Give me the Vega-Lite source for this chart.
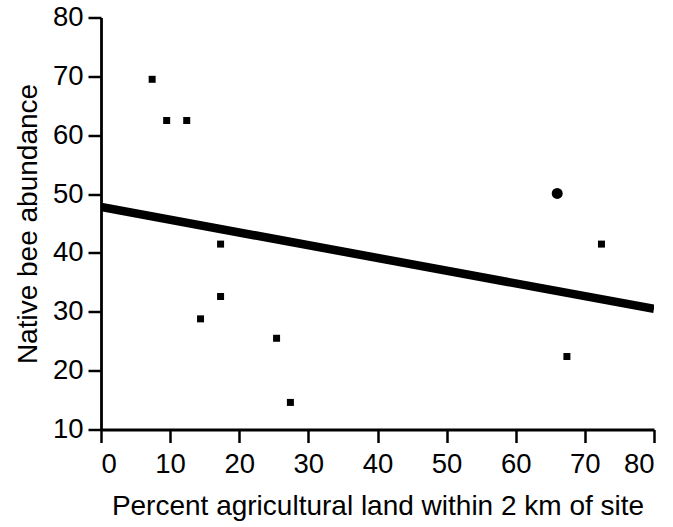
{
  "$schema": "https://vega.github.io/schema/vega-lite/v6.json",
  "autosize": "none",
  "padding": {"left": 101, "top": 17.5, "right": 19, "bottom": 97.5},
  "width": 553,
  "height": 412,
  "config": {
    "view": {"stroke": null},
    "font": "Liberation Sans",
    "axis": {
      "grid": false,
      "domainColor": "black",
      "domainWidth": 2.8,
      "tickColor": "black",
      "tickWidth": 2.5,
      "tickSize": 13,
      "labelFont": "Liberation Sans",
      "labelFontSize": 27.5,
      "labelColor": "black",
      "titleFont": "Liberation Sans",
      "titleFontSize": 28,
      "titleFontWeight": "normal",
      "titleColor": "black"
    }
  },
  "datasets": {
    "points": [
      {"pct": 7.4, "abundance": 69.5, "type": "site"},
      {"pct": 9.5, "abundance": 62.5, "type": "site"},
      {"pct": 12.4, "abundance": 62.5, "type": "site"},
      {"pct": 17.3, "abundance": 41.5, "type": "site"},
      {"pct": 14.4, "abundance": 28.8, "type": "site"},
      {"pct": 17.3, "abundance": 32.6, "type": "site"},
      {"pct": 25.4, "abundance": 25.5, "type": "site"},
      {"pct": 27.4, "abundance": 14.6, "type": "site"},
      {"pct": 72.4, "abundance": 41.5, "type": "site"},
      {"pct": 67.4, "abundance": 22.4, "type": "site"}
    ],
    "outlier": [
      {"pct": 66.0, "abundance": 50.1}
    ],
    "fit": [
      {"pct": 0, "abundance": 47.8},
      {"pct": 80, "abundance": 30.5}
    ]
  },
  "layer": [
    {
      "data": {"name": "fit"},
      "mark": {"type": "line", "color": "black", "strokeWidth": 8.5, "strokeCap": "butt", "clip": true},
      "encoding": {
        "x": {"field": "pct", "type": "quantitative", "scale": {"domain": [0, 80], "nice": false},
          "axis": {"values": [0,10,20,30,40,50,60,70,80], "title": "Percent agricultural land within 2 km of site", "labelPadding": 8, "titlePadding": 14}},
        "y": {"field": "abundance", "type": "quantitative", "scale": {"domain": [10, 80], "nice": false, "zero": false},
          "axis": {"values": [10,20,30,40,50,60,70,80], "title": "Native bee abundance", "labelPadding": 5, "titlePadding": 10}}
      }
    },
    {
      "data": {"name": "points"},
      "mark": {"type": "point", "shape": "square", "filled": true, "color": "black", "size": 49, "opacity": 1},
      "encoding": {
        "x": {"field": "pct", "type": "quantitative"},
        "y": {"field": "abundance", "type": "quantitative"}
      }
    },
    {
      "data": {"name": "outlier"},
      "mark": {"type": "circle", "color": "black", "size": 120, "opacity": 1},
      "encoding": {
        "x": {"field": "pct", "type": "quantitative"},
        "y": {"field": "abundance", "type": "quantitative"}
      }
    }
  ]
}
